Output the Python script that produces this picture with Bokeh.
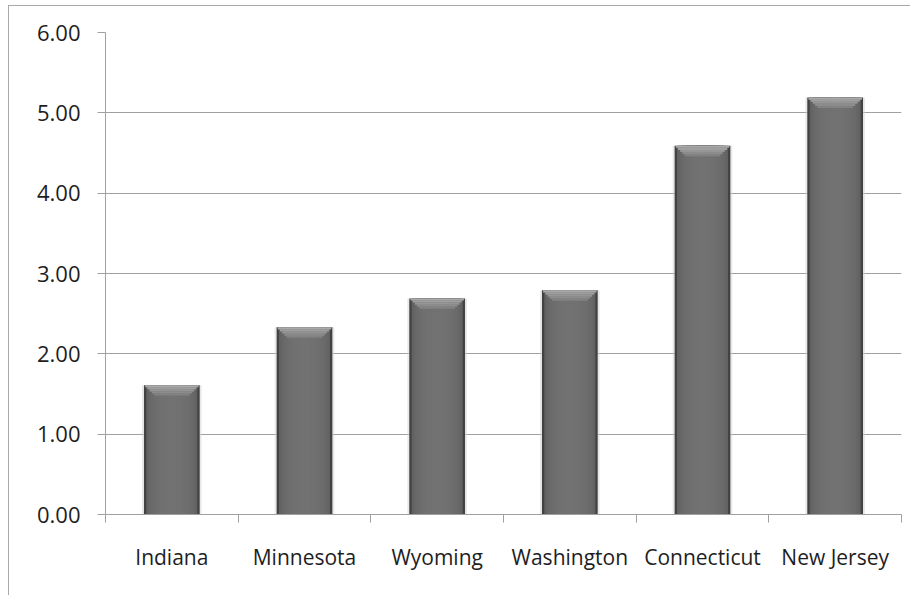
import math
from bokeh.plotting import figure
from bokeh.models import (ColumnDataSource, Range1d, LinearAxis, FixedTicker, NumeralTickFormatter)
from bokeh.embed import file_html
from bokeh.resources import INLINE

# ---- data ----
states = ["Indiana", "Minnesota", "Wyoming", "Washington", "Connecticut", "New Jersey"]
values = [1.61, 2.33, 2.69, 2.79, 4.59, 5.19]
y_ticks = [0, 1, 2, 3, 4, 5, 6]

FONT = "Open Sans"
GRID = "#a0a0a0"
TXT = "#1e1e1e"
BAR_W = 0.42

n = len(states)
pos = [i + 0.5 for i in range(n)]          # category slot centres on the x scale
bounds = list(range(n + 1))                # category slot boundaries

p = figure(width=902, height=590, x_range=Range1d(0, n), y_range=Range1d(0, 6),
           output_backend="svg", toolbar_location=None, x_axis_location=None,
           min_border_left=96, min_border_top=26, min_border_right=10, min_border_bottom=82)
p.styles = {"border-top": "1px solid #a8a8a8", "border-left": "1px solid #a8a8a8",
            "margin-left": "8px", "margin-top": "5px"}
p.outline_line_color = None
p.background_fill_color = "white"
p.border_fill_color = "white"
p.xgrid.grid_line_color = None
p.ygrid.grid_line_color = GRID
p.ygrid.ticker = FixedTicker(ticks=y_ticks)

# y axis
ya = p.yaxis[0]
ya.ticker = FixedTicker(ticks=y_ticks)
ya.formatter = NumeralTickFormatter(format="0.00")
ya.axis_line_color = GRID
ya.major_tick_line_color = GRID
ya.major_tick_out = 8
ya.major_tick_in = 0
ya.minor_tick_line_color = None
ya.major_label_standoff = 17
ya.major_label_text_font = FONT
ya.major_label_text_font_size = "22px"
ya.major_label_text_color = TXT

# x axis: labels at slot centres, tick marks (minor) at slot boundaries
xa = LinearAxis(ticker=FixedTicker(ticks=pos, minor_ticks=bounds),
                major_label_overrides={x: s for x, s in zip(pos, states)},
                axis_line_color=GRID, major_tick_line_color=None, major_tick_out=0,
                major_tick_in=0, minor_tick_line_color=GRID, minor_tick_out=8, minor_tick_in=0,
                major_label_standoff=20,
                major_label_text_font=FONT, major_label_text_font_size="21px",
                major_label_text_color=TXT)
p.add_layout(xa, "below")

src = ColumnDataSource(dict(x=pos, state=states, top=values))

# soft shadow
p.vbar(x="x", top="top", bottom=0, width=BAR_W + 0.03, source=src,
       fill_color="#d4d4d4", fill_alpha=0.5, line_color=None)

# cylindrical body gradient: concentric layers, dark edges -> lighter centre
N = 12
dark, light = 66, 114
for k in range(N):
    f = 1 - k / N
    shade = dark + (light - dark) * math.sqrt(max(0.0, 1 - f * f)) ** 0.45
    c = int(round(shade))
    p.vbar(x="x", top="top", bottom=0, width=BAR_W * f, source=src,
           fill_color="#%02x%02x%02x" % (c, c, c), line_color=None)

# bevelled top
d = 0.026
steps = 5
for j in range(steps):
    col_top = "t%d" % j
    col_bot = "b%d" % j
    src.data[col_top] = [v - j * d for v in values]
    src.data[col_bot] = [v - (j + 1) * d for v in values]
    c = int(round(170 - j * 10))
    p.vbar(x="x", top=col_top, bottom=col_bot, width=BAR_W * (0.96 - j * 0.08), source=src,
           fill_color="#%02x%02x%02x" % (c, c, c), line_color=None)

open("out.html", "w").write(file_html(p, INLINE))
